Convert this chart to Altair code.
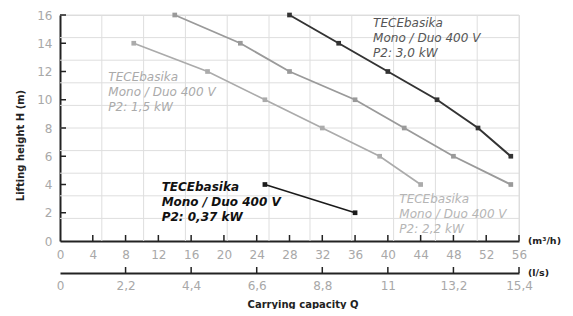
import altair as alt
import pandas as pd

# ---- data ----
series_names = ["P2: 3,0 kW", "P2: 2,2 kW", "P2: 1,5 kW", "P2: 0,37 kW"]
q_30 = [28, 34, 40, 46, 51, 55]
h_30 = [16, 14, 12, 10, 8, 6]
q_22 = [14, 22, 28, 36, 42, 48, 55]
h_22 = [16, 14, 12, 10, 8, 6, 4]
q_15 = [9, 18, 25, 32, 39, 44]
h_15 = [14, 12, 10, 8, 6, 4]
q_037 = [25, 36]
h_037 = [4, 2]

x_ticks = [0, 4, 8, 12, 16, 20, 24, 28, 32, 36, 40, 44, 48, 52, 56]
y_ticks = [0, 2, 4, 6, 8, 10, 12, 14, 16]
ls_ticks = [0, 2.2, 4.4, 6.6, 8.8, 11, 13.2, 15.4]
x_grid = [5.1, 10.2, 15.3, 20.4, 25.5, 30.5, 35.6, 40.7, 45.8, 50.9, 56]
y_grid = [1.6, 3.2, 4.8, 6.4, 8.0, 9.6, 11.2, 12.8, 14.4, 16.0]

ann_text = [
    "TECEbasika\nMono / Duo 400 V\nP2: 3,0 kW",
    "TECEbasika\nMono / Duo 400 V\nP2: 1,5 kW",
    "TECEbasika\nMono / Duo 400 V\nP2: 0,37 kW",
    "TECEbasika\nMono / Duo 400 V\nP2: 2,2 kW",
]
ann_x = [38.2, 5.9, 12.4, 41.4]
ann_y = [15.8, 12.0, 4.2, 3.3]

colors = ["#333333", "#9a9a9a", "#ababab", "#1a1a1a"]
widths = [2, 1.5, 1.5, 2]

W, H = 459, 226
XD = [0, 56]
YD = [0, 16]
FONT = "DejaVu Sans"

rows = []
for name, qs, hs in [(series_names[0], q_30, h_30), (series_names[1], q_22, h_22),
                     (series_names[2], q_15, h_15), (series_names[3], q_037, h_037)]:
    for q, h in zip(qs, hs):
        rows.append({"series": name, "Q": q, "H": h})
df = pd.DataFrame(rows)

xs = alt.Scale(domain=XD, nice=False, zero=False)
ys = alt.Scale(domain=YD, nice=False, zero=False)

yaxis = alt.Axis(values=y_ticks, title="Lifting height H (m)", ticks=False, grid=False,
                 domainColor="#222", domainWidth=2, labelColor="#a8a8a8",
                 labelFont=FONT, labelFontSize=12, labelPadding=8,
                 titleFont=FONT, titleFontSize=10, titleFontWeight="bold",
                 titleColor="#222", titleX=-40, titleY=130, titleAngle=-90,
                 titleAlign="center", titleBaseline="middle")


def Y():
    return alt.Y("H:Q", scale=ys, axis=yaxis)


# grid
gx = alt.Chart(pd.DataFrame({"Q": x_grid})).mark_rule(color="#dedede", strokeWidth=1).encode(
    x=alt.X("Q:Q", scale=xs, axis=None))
gy = alt.Chart(pd.DataFrame({"H": y_grid})).mark_rule(color="#dedede", strokeWidth=1).encode(
    y=Y())

# inward ticks
tx = alt.Chart(pd.DataFrame({"Q": x_ticks[1:]})).mark_rule(color="#222", strokeWidth=1.5).encode(
    x=alt.X("Q:Q", scale=xs, axis=None), y=alt.value(H - 6), y2=alt.value(H))
ty = alt.Chart(pd.DataFrame({"H": y_ticks[1:]})).mark_rule(color="#222", strokeWidth=1.5).encode(
    y=Y(), x=alt.value(0), x2=alt.value(6))

# second axis (l/s)
ls_scale = alt.Scale(domain=[0, 15.4], nice=False, zero=False)
ls_layer = alt.Chart(pd.DataFrame({"ls": ls_ticks[1:]})).mark_rule(color="#222", strokeWidth=1.5).encode(
    x=alt.X("ls:Q", scale=ls_scale,
            axis=alt.Axis(orient="bottom", offset=32, values=ls_ticks, title=None,
                          ticks=False, grid=False, domainColor="#222", domainWidth=2,
                          labelColor="#a8a8a8", labelFont=FONT, labelFontSize=12,
                          labelPadding=7, labelExpr="replace(format(datum.value, '.1~f'), '.', ',')",
                          labelFlush=False)),
    y=alt.value(H + 26), y2=alt.value(H + 32))

# lines
col_scale = alt.Scale(domain=series_names, range=colors)
w_scale = alt.Scale(domain=series_names, range=widths)
base = alt.Chart(df)
lines = base.mark_line().encode(
    x=alt.X("Q:Q", scale=xs,
            axis=alt.Axis(values=x_ticks, title=None, ticks=False, grid=False,
                          domainColor="#222", domainWidth=2, labelColor="#a8a8a8",
                          labelFont=FONT, labelFontSize=12, labelPadding=8, labelFlush=False)),
    y=Y(),
    color=alt.Color("series:N", scale=col_scale, legend=None),
    strokeWidth=alt.StrokeWidth("series:N", scale=w_scale, legend=None),
    detail="series:N",
)
pts = base.mark_square(size=22, opacity=1).encode(
    x=alt.X("Q:Q", scale=xs, axis=None),
    y=Y(),
    color=alt.Color("series:N", scale=col_scale, legend=None),
)

# annotations
ann_style = [
    dict(color="#555555", fontStyle="italic", fontWeight="normal"),
    dict(color="#aaaaaa", fontStyle="italic", fontWeight="normal"),
    dict(color="#111111", fontStyle="italic", fontWeight="bold"),
    dict(color="#b5b5b5", fontStyle="italic", fontWeight="normal"),
]
anns = []
for t, ax, ay, st in zip(ann_text, ann_x, ann_y, ann_style):
    anns.append(alt.Chart(pd.DataFrame({"Q": [ax], "H": [ay], "t": [t]})).mark_text(
        align="left", baseline="top", lineBreak="\n", lineHeight=15, font=FONT, fontSize=12,
        **st).encode(x=alt.X("Q:Q", scale=xs, axis=None), y=Y(), text="t:N"))

# units and x title
extra = alt.Chart(pd.DataFrame({"t": ["(m³/h)"]})).mark_text(
    align="left", baseline="middle", font=FONT, fontSize=9.5, fontWeight="bold", color="#222"
).encode(x=alt.value(W + 9), y=alt.value(H), text="t:N")
extra2 = alt.Chart(pd.DataFrame({"t": ["(l/s)"]})).mark_text(
    align="left", baseline="middle", font=FONT, fontSize=9.5, fontWeight="bold", color="#222"
).encode(x=alt.value(W + 9), y=alt.value(H + 32), text="t:N")
xtitle = alt.Chart(pd.DataFrame({"t": ["Carrying capacity Q"]})).mark_text(
    align="center", baseline="middle", font=FONT, fontSize=10, fontWeight="bold", color="#222"
).encode(x=alt.value(243), y=alt.value(H + 64), text="t:N")

chart = alt.layer(gx, gy, lines, pts, tx, ty, ls_layer, *anns, extra, extra2, xtitle).resolve_scale(
    x="independent"
).properties(
    width=W, height=H,
    autosize=alt.AutoSizeParams(type="none"),
    padding={"left": 52, "top": 7, "right": 46, "bottom": 68},
).configure_view(stroke=None).configure(background="white")

chart.save("out.html", embed_options={"renderer": "svg", "actions": False})
